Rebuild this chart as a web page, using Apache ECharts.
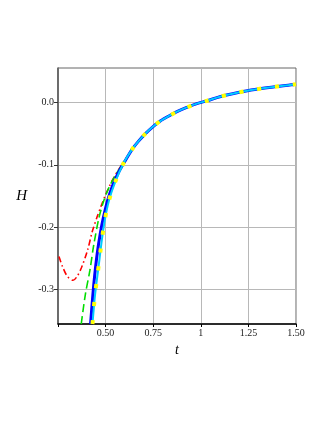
<!DOCTYPE html>
<html>
<head>
<meta charset="utf-8">
<script src="https://cdn.jsdelivr.net/npm/echarts@6/dist/echarts.min.js"></script>
<style>
html,body{margin:0;padding:0;background:#fff;}
#c{width:327px;height:423px;}
</style>
</head>
<body>
<div id="c"></div>
<script>
// shared tail (all curves coincide for larger t)
var tailT = [0.641, 0.672, 0.708, 0.745, 0.787, 0.83, 0.875, 0.92, 0.972, 1.037, 1.1, 1.167, 1.264, 1.37, 1.476, 1.5];
var tailH = [-0.0745, -0.0625, -0.0505, -0.0400, -0.0300, -0.0222, -0.0150, -0.0088, -0.0028, 0.0030, 0.0090, 0.0138, 0.0196, 0.0242, 0.0280, 0.0290];

var redT = [0.255, 0.275, 0.300, 0.329, 0.350, 0.373, 0.405, 0.430, 0.456, 0.474, 0.500, 0.535, 0.570, 0.600];
var redH = [-0.247, -0.264, -0.279, -0.285, -0.279, -0.265, -0.237, -0.207, -0.183, -0.168, -0.148, -0.125, -0.107, -0.094];

var greenT = [0.372, 0.394, 0.417, 0.438, 0.465, 0.490, 0.517, 0.553, 0.600];
var greenH = [-0.355, -0.307, -0.270, -0.228, -0.185, -0.158, -0.137, -0.116, -0.094];

var blueT = [0.421, 0.430, 0.440, 0.456, 0.472, 0.488, 0.510, 0.535, 0.565, 0.600];
var blueH = [-0.355, -0.320, -0.285, -0.242, -0.210, -0.185, -0.158, -0.135, -0.114, -0.095];

var cyanT = [0.431, 0.436, 0.444, 0.456, 0.468, 0.480, 0.495, 0.517, 0.551, 0.597];
var cyanH = [-0.355, -0.337, -0.310, -0.280, -0.251, -0.221, -0.190, -0.158, -0.127, -0.096];

var yellowT = cyanT;
var yellowH = cyanH;

var xTickValues = [0.5, 0.75, 1, 1.25, 1.5];
var xTickLabels = ["0.50", "0.75", "1", "1.25", "1.50"];
var yTickValues = [-0.3, -0.2, -0.1, 0];
var yTickLabels = ["-0.3", "-0.2", "-0.1", "0.0"];

function pairs(t, h) {
  var out = [];
  for (var i = 0; i < t.length; i++) out.push([t[i], h[i]]);
  for (var j = 0; j < tailT.length; j++) out.push([tailT[j], tailH[j]]);
  return out;
}
function lookup(vals, labels, v) {
  for (var i = 0; i < vals.length; i++) if (Math.abs(vals[i] - v) < 1e-6) return labels[i];
  return '';
}

var font = 'Liberation Serif, Times New Roman, serif';
var chart = echarts.init(document.getElementById('c'), null, {renderer: 'canvas'});
function line(t, h, style) {
  return {type: 'line', data: pairs(t, h), showSymbol: false, smooth: 0.3, lineStyle: style};
}
chart.setOption({
  animation: false,
  grid: {left: 58, top: 68, right: 31, bottom: 99, show: true, borderColor: '#666', borderWidth: 1},
  xAxis: {
    type: 'value', min: 0.25, max: 1.5, interval: 0.25,
    name: 't', nameLocation: 'middle', nameGap: 18,
    nameTextStyle: {fontFamily: font, fontStyle: 'italic', fontSize: 14, color: '#000'},
    axisLine: {show: true, onZero: false, lineStyle: {color: '#000', width: 1.5}},
    axisTick: {show: true, length: 3, lineStyle: {color: '#000'}},
    axisLabel: {fontFamily: font, fontSize: 10, color: '#222', margin: 4,
      formatter: function (v) { return lookup(xTickValues, xTickLabels, v); }},
    splitLine: {show: true, lineStyle: {color: '#b8b8b8', width: 1}}
  },
  yAxis: {
    type: 'value', min: -0.355, max: 0.055,
    name: 'H', nameLocation: 'middle', nameGap: 31, nameRotate: 0,
    nameTextStyle: {fontFamily: font, fontStyle: 'italic', fontSize: 15, color: '#000'},
    axisLine: {show: true, onZero: false, lineStyle: {color: '#555', width: 1.5}},
    axisTick: {show: true, length: 4, customValues: yTickValues, lineStyle: {color: '#333'}},
    axisLabel: {fontFamily: font, fontSize: 10, color: '#222', margin: 4, customValues: yTickValues,
      formatter: function (v) { return lookup(yTickValues, yTickLabels, v); }},
    splitLine: {show: true, lineStyle: {color: '#b8b8b8', width: 1}}
  },
  series: [
    line(redT, redH, {color: '#ff0000', width: 1.6, type: [6, 3, 1.5, 3]}),
    line(greenT, greenH, {color: '#00dd00', width: 1.6, type: [8, 4]}),
    line(blueT, blueH, {color: '#0000ff', width: 3}),
    line(cyanT, cyanH, {color: '#00ccff', width: 2}),
    line(yellowT, yellowH, {color: '#ffff00', width: 4, type: [4, 14]})
  ]
});
</script>
</body>
</html>
